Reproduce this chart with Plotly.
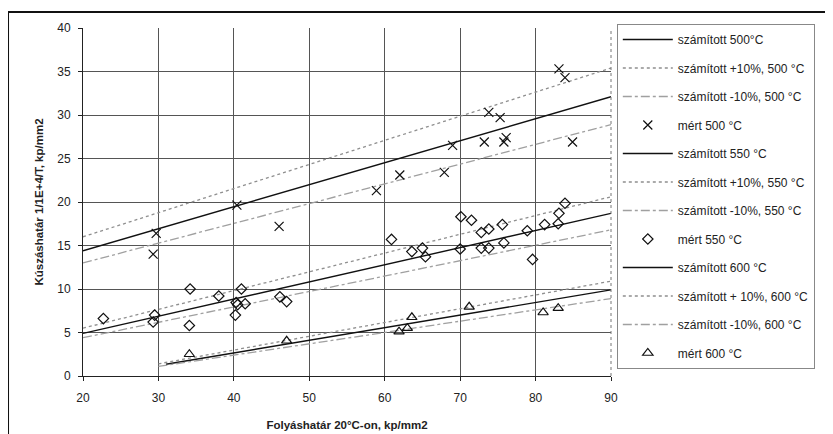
import plotly.graph_objects as go

# ---- data ----
x_line = [20, 90]
calc500 = [14.4, 32.1]
calc500_p10 = [16.0, 35.4]
calc500_m10 = [13.0, 28.9]
calc550 = [4.9, 18.7]
calc550_p10 = [5.5, 20.6]
calc550_m10 = [4.4, 16.8]
x_line600 = [31, 90]
x_line600b = [30, 90]
calc600 = [1.35, 9.9]
calc600_p10 = [1.4, 10.9]
calc600_m10 = [1.1, 8.9]

m500_x = [29.7, 29.3, 40.4, 46.0, 58.9, 62.0, 67.9, 69.0, 73.2, 73.8, 75.3, 75.8, 76.1, 83.1, 83.9, 84.9]
m500_y = [16.4, 14.0, 19.65, 17.2, 21.3, 23.1, 23.4, 26.5, 26.9, 30.3, 29.7, 26.9, 27.4, 35.3, 34.3, 26.9]

m550_x = [22.7, 29.5, 29.3, 34.2, 34.1, 38.0, 40.2, 40.3, 40.5, 41.0, 41.5, 46.1, 47.0,
          60.9, 63.6, 65.0, 65.4, 70.1, 70.0, 71.5, 72.8, 72.8, 73.8, 73.8, 75.6, 75.8,
          78.9, 79.6, 81.2, 83.0, 83.1, 83.9]
m550_y = [6.6, 7.0, 6.2, 10.0, 5.8, 9.2, 7.0, 8.45, 8.2, 10.0, 8.3, 9.1, 8.55,
          15.7, 14.3, 14.7, 13.7, 18.3, 14.6, 17.9, 16.5, 14.7, 16.9, 14.7, 17.4, 15.3,
          16.7, 13.4, 17.4, 17.5, 18.7, 19.85]

m600_x = [34.1, 47.0, 61.9, 63.0, 63.6, 71.2, 81.0, 83.0]
m600_y = [2.5, 4.05, 5.1, 5.5, 6.75, 7.95, 7.3, 7.8]

x_ticks = [20, 30, 40, 50, 60, 70, 80, 90]
y_ticks = [0, 5, 10, 15, 20, 25, 30, 35, 40]

names = ["számított 500°C", "számított +10%, 500 °C", "számított -10%, 500 °C", "mért 500 °C",
         "számított 550 °C", "számított +10%, 550 °C", "számított -10%, 550 °C", "mért 550 °C",
         "számított 600 °C", "számított + 10%, 600 °C", "számított -10%, 600 °C", "mért 600 °C"]

fig = go.Figure()
calc_style = dict(color="#111111", width=1.4)
p10_style = dict(color="#8f8f8f", width=1.3, dash="dot")
m10_style = dict(color="#a0a0a0", width=1.3, dash="dashdot")

def line(x, y, name, style, g):
    fig.add_trace(go.Scatter(x=x, y=y, mode="lines", name=name, line=style, legendgroup=g))

def pts(x, y, name, symbol, size, g):
    fig.add_trace(go.Scatter(x=x, y=y, mode="markers", name=name, legendgroup=g,
                             marker=dict(symbol=symbol, size=size, color="#111111",
                                         line=dict(color="#111111", width=1.2))))

line(x_line, calc500, names[0], calc_style, "g00")
line(x_line, calc500_p10, names[1], p10_style, "g01")
line(x_line, calc500_m10, names[2], m10_style, "g02")
pts(m500_x, m500_y, names[3], "x-thin-open", 9, "g03")
line(x_line, calc550, names[4], calc_style, "g04")
line(x_line, calc550_p10, names[5], p10_style, "g05")
line(x_line, calc550_m10, names[6], m10_style, "g06")
pts(m550_x, m550_y, names[7], "diamond-open", 8, "g07")
line(x_line600, calc600, names[8], calc_style, "g08")
line(x_line600b, calc600_p10, names[9], p10_style, "g09")
line(x_line600b, calc600_m10, names[10], m10_style, "g10")
pts(m600_x, m600_y, names[11], "triangle-up-open", 9, "g11")

font = "Liberation Sans, Arial, sans-serif"
fig.update_layout(
    width=825, height=426,
    margin=dict(l=75, r=222, t=20, b=58, autoexpand=False),
    paper_bgcolor="white", plot_bgcolor="white",
    font=dict(family=font, size=12, color="#222222"),
    showlegend=True,
    legend=dict(x=1.011, y=1.0115, xanchor="left", yanchor="top",
                bordercolor="#888888", borderwidth=1, bgcolor="white",
                font=dict(size=12, color="#222222"),
                tracegroupgap=9.5, itemwidth=50, traceorder="grouped", maxheight=420),
    xaxis=dict(range=[20, 90], tickvals=x_ticks, showgrid=True, gridcolor="#555555", gridwidth=1,
               showline=True, linecolor="#222222", linewidth=1, ticks="outside", ticklen=4,
               tickcolor="#222222", zeroline=False, ticklabelstandoff=7, automargin=False,
               title=dict(text="<b>Folyáshatár 20°C-on, kp/mm2</b>", font=dict(size=11.5), standoff=16)),
    yaxis=dict(range=[0, 40], tickvals=y_ticks, showgrid=True, gridcolor="#555555", gridwidth=1,
               showline=True, linecolor="#222222", linewidth=1, ticks="outside", ticklen=4,
               tickcolor="#222222", zeroline=False, ticklabelstandoff=5, automargin=False,
               title=dict(text="<b>Kúszáshatár 1/1E+4/T, kp/mm2</b>", font=dict(size=11.5), standoff=11)),
    shapes=[
        dict(type="line", xref="paper", yref="paper", x0=-0.142, x1=1.5, y0=1.046, y1=1.046,
             line=dict(color="#111111", width=2)),
        dict(type="line", xref="paper", yref="paper", x0=-0.142, x1=-0.142, y0=1.046, y1=-0.3,
             line=dict(color="#111111", width=2)),
        dict(type="line", xref="paper", yref="paper", x0=1, x1=1, y0=0, y1=1,
             line=dict(color="#777777", width=1, dash="dot")),
    ],
)

fig.write_html("out.html")
